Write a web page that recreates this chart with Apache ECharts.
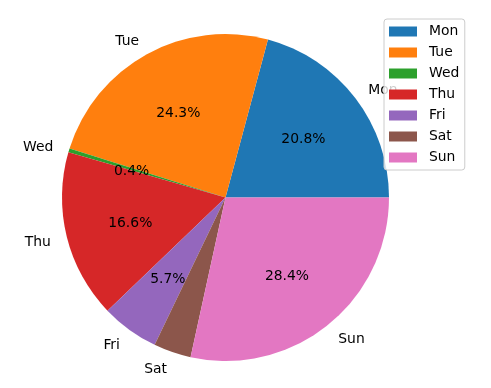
<!DOCTYPE html>
<html>
<head>
<meta charset="utf-8">
<script src="https://cdn.jsdelivr.net/npm/echarts@6/dist/echarts.min.js"></script>
<style>
html,body{margin:0;padding:0;background:#fff;}
#chart{width:491px;height:388px;}
</style>
</head>
<body>
<div id="chart"></div>
<script>
const categories = ['Mon', 'Tue', 'Wed', 'Thu', 'Fri', 'Sat', 'Sun'];
const values = [20.8, 24.3, 0.4, 16.6, 5.7, 3.7, 28.4];
const colors = ['#1f77b4', '#ff7f0e', '#2ca02c', '#d62728', '#9467bd', '#8c564b', '#e377c2'];

const R = 163.5;
const CX = 225.5, CY = 197.5;
const FONT = 'DejaVu Sans';
const FS = 13.9;

const total = values.reduce((a, b) => a + b, 0);
const mainData = categories.map((c, i) => ({ name: c, value: values[i], itemStyle: { color: colors[i] } }));
const pctData = categories.map((c, i) => ({ name: c, value: values[i] }));

const richT = { t: { fontFamily: FONT, fontSize: FS, color: '#000', padding: [4, 0, 0, 0] } };

const chart = echarts.init(document.getElementById('chart'), null, { renderer: 'canvas' });
chart.setOption({
  animation: false,
  backgroundColor: '#fff',
  legend: {
    orient: 'vertical',
    left: 384,
    top: 19,
    data: categories,
    icon: 'rect',
    itemWidth: 28,
    itemHeight: 10,
    itemGap: 7,
    padding: [5.5, 5.5, 5.5, 5],
    backgroundColor: 'rgba(255,255,255,0.8)',
    borderColor: '#cccccc',
    borderWidth: 1,
    borderRadius: 3,
    z: 10,
    textStyle: { fontFamily: FONT, fontSize: FS, color: '#000', lineHeight: 14, padding: [0, 0, 0, 7] }
  },
  series: [
    {
      type: 'pie',
      center: [CX, CY],
      radius: [0, R],
      startAngle: 0,
      clockwise: false,
      avoidLabelOverlap: false,
      minShowLabelAngle: 0,
      data: mainData,
      itemStyle: { borderWidth: 0 },
      label: {
        show: true,
        position: 'outside',
        formatter: p => '{t|' + p.name + '}',
        rich: richT,
        fontFamily: FONT,
        fontSize: FS,
        color: '#000',
        distanceToLabelLine: 0
      },
      labelLine: { show: false, length: R * 0.1, length2: 0 },
      emphasis: { disabled: true }
    },
    {
      type: 'pie',
      center: [CX, CY],
      radius: [0, 2 * (R * 0.6 - 3)],
      startAngle: 0,
      clockwise: false,
      silent: true,
      avoidLabelOverlap: false,
      minShowLabelAngle: 0,
      data: pctData,
      itemStyle: { color: 'rgba(0,0,0,0)', borderWidth: 0 },
      label: {
        show: true,
        position: 'inside',
        formatter: p => '{t|' + (p.value / total * 100).toFixed(1) + '%}',
        rich: richT,
        fontFamily: FONT,
        fontSize: FS,
        color: '#000'
      },
      labelLine: { show: false },
      emphasis: { disabled: true }
    }
  ]
});
</script>
</body>
</html>
